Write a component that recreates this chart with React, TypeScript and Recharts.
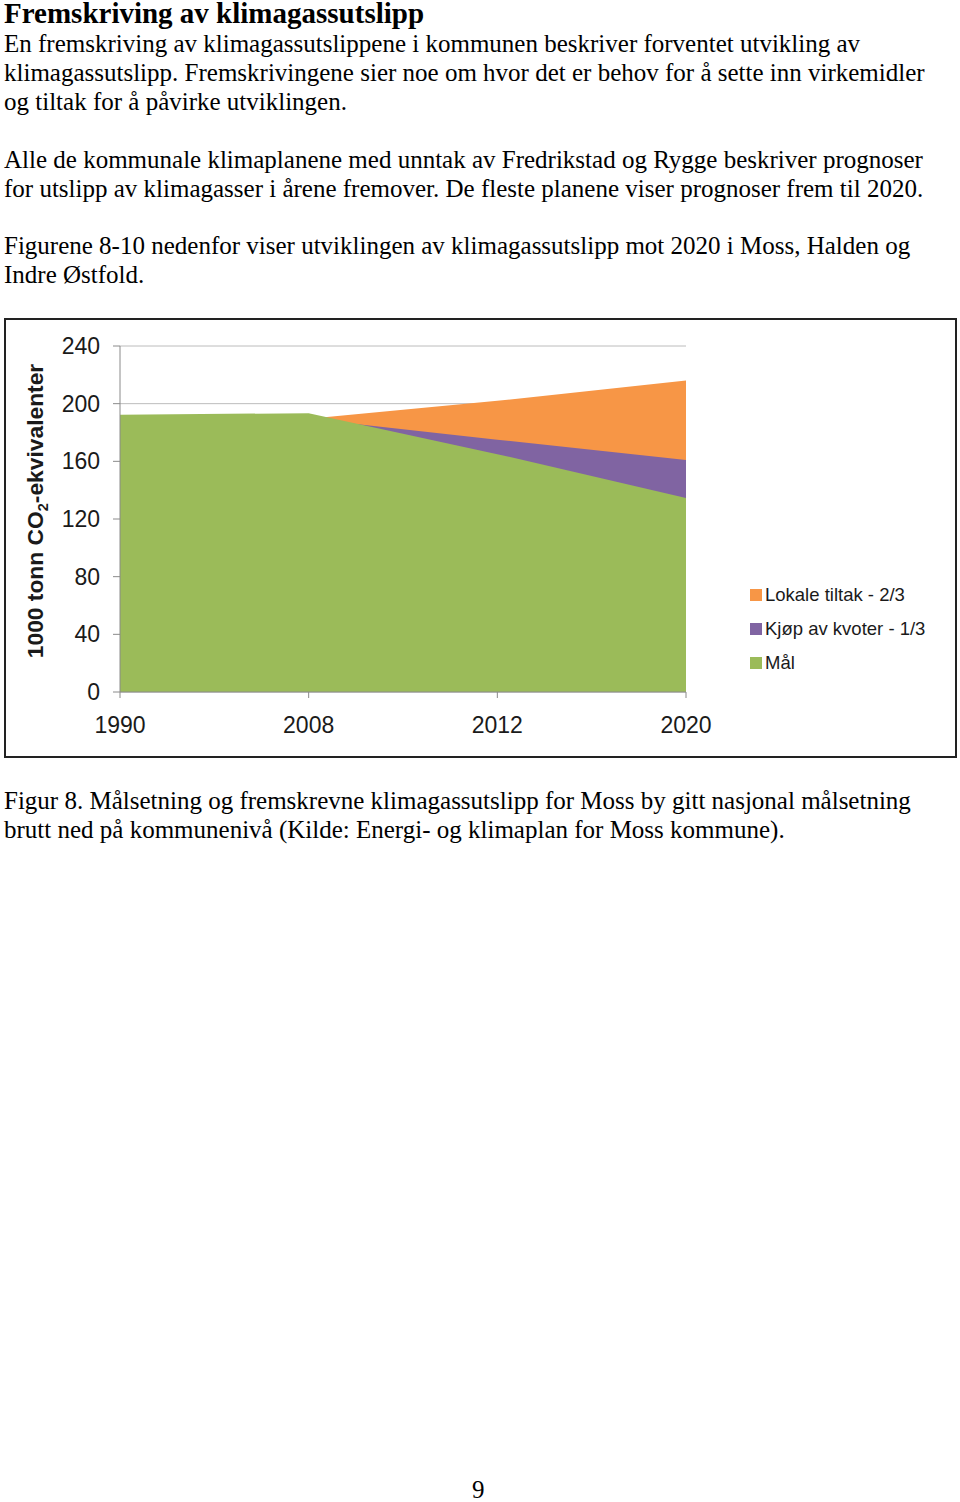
import { AreaChart, Area, XAxis, YAxis, CartesianGrid } from "recharts"

const years = ["1990", "2008", "2012", "2020"]
const lokaleTiltak = [190, 189.5, 202, 216]
const kjopKvoter = [190, 189.5, 175, 161]
const maal = [192.3, 193.4, 165, 134.6]
const yTicks = [0, 40, 80, 120, 160, 200, 240]

const seriesNames = ["Lokale tiltak - 2/3", "Kjøp av kvoter - 1/3", "Mål"]
const seriesColors = ["#F79646", "#8064A2", "#9BBB59"]

const data = years.map((year, i) => ({
  year,
  lokale: lokaleTiltak[i],
  kvoter: kjopKvoter[i],
  maal: maal[i],
}))

const introLines = [
  "En fremskriving av klimagassutslippene i kommunen beskriver forventet utvikling av",
  "klimagassutslipp. Fremskrivingene sier noe om hvor det er behov for å sette inn virkemidler",
  "og tiltak for å påvirke utviklingen.",
]
const para2 = [
  "Alle de kommunale klimaplanene med unntak av Fredrikstad og Rygge beskriver prognoser",
  "for utslipp av klimagasser i årene fremover. De fleste planene viser prognoser frem til 2020.",
]
const para3 = [
  "Figurene 8-10 nedenfor viser utviklingen av klimagassutslipp mot 2020 i Moss, Halden og",
  "Indre Østfold.",
]
const caption = [
  "Figur 8. Målsetning og fremskrevne klimagassutslipp for Moss by gitt nasjonal målsetning",
  "brutt ned på kommunenivå (Kilde: Energi- og klimaplan for Moss kommune).",
]

const serif = "'Liberation Serif', 'Times New Roman', serif"
const sans = "'Liberation Sans', Arial, sans-serif"

function TextLine({ text, center }: { text: string; center: number }) {
  return (
    <div
      style={{
        position: "absolute",
        left: 4,
        top: center - 15,
        height: 30,
        lineHeight: "30px",
        fontFamily: serif,
        fontSize: 25,
        whiteSpace: "nowrap",
        color: "#000",
      }}
    >
      {text}
    </div>
  )
}

function YLabel() {
  return (
    <text
      transform="translate(43,193) rotate(-90)"
      textAnchor="middle"
      fontFamily={sans}
      fontWeight="bold"
      fontSize={22.8}
      fill="#1a1a1a"
    >
      <tspan>1000 tonn CO</tspan>
      <tspan fontSize={14.5} dy={5}>2</tspan>
      <tspan dy={-5}>-ekvivalenter</tspan>
    </text>
  )
}

export default function App() {
  return (
    <div style={{ position: "absolute", left: 0, top: 0, width: 960, height: 1502, background: "#fff" }}>
      <div
        style={{
          position: "absolute",
          left: 4,
          top: -2,
          fontFamily: serif,
          fontWeight: "bold",
          fontSize: 29,
          lineHeight: "30px",
          whiteSpace: "nowrap",
        }}
      >
        Fremskriving av klimagassutslipp
      </div>
      {introLines.map((t, i) => (
        <TextLine key={t} text={t} center={44 + i * 29} />
      ))}
      {para2.map((t, i) => (
        <TextLine key={t} text={t} center={160 + i * 29} />
      ))}
      {para3.map((t, i) => (
        <TextLine key={t} text={t} center={246 + i * 29} />
      ))}

      <div
        style={{
          position: "absolute",
          left: 4,
          top: 318,
          width: 949,
          height: 436,
          border: "2px solid #222",
        }}
      />
      <div style={{ position: "absolute", left: 0, top: 318 }}>
        <AreaChart
          width={960}
          height={440}
          data={data}
          margin={{ top: 28, right: 274, left: 60, bottom: 36 }}
        >
          <CartesianGrid vertical={false} stroke="#bcbcbc" />
          <XAxis
            dataKey="year"
            stroke="#8a8a8a"
            tickSize={6}
            tickMargin={19}
            height={30}
            tick={{ fill: "#1a1a1a", fontSize: 23, fontFamily: sans }}
          />
          <YAxis
            domain={[0, 240]}
            ticks={yTicks}
            width={60}
            stroke="#8a8a8a"
            tickSize={7}
            tickMargin={13}
            tick={{ fill: "#1a1a1a", fontSize: 23, fontFamily: sans }}
            label={<YLabel />}
          />
          <Area
            dataKey="lokale"
            name={seriesNames[0]}
            fill={seriesColors[0]}
            fillOpacity={1}
            stroke="none"
            type="linear"
            isAnimationActive={false}
          />
          <Area
            dataKey="kvoter"
            name={seriesNames[1]}
            fill={seriesColors[1]}
            fillOpacity={1}
            stroke="none"
            type="linear"
            isAnimationActive={false}
          />
          <Area
            dataKey="maal"
            name={seriesNames[2]}
            fill={seriesColors[2]}
            fillOpacity={1}
            stroke="none"
            type="linear"
            isAnimationActive={false}
          />
        </AreaChart>
      </div>
      <div
        style={{
          position: "absolute",
          left: 750,
          top: 578,
          fontFamily: sans,
          fontSize: 18.5,
          color: "#1a1a1a",
        }}
      >
        {seriesNames.map((name, i) => (
          <div key={name} style={{ display: "flex", alignItems: "center", height: 34, whiteSpace: "nowrap" }}>
            <span
              style={{
                display: "inline-block",
                width: 12,
                height: 12,
                background: seriesColors[i],
                marginRight: 3,
              }}
            />
            <span>{name}</span>
          </div>
        ))}
      </div>

      {caption.map((t, i) => (
        <TextLine key={t} text={t} center={801 + i * 29} />
      ))}
      <div
        style={{
          position: "absolute",
          left: 472,
          top: 1475,
          fontFamily: serif,
          fontSize: 25,
          lineHeight: "30px",
        }}
      >
        9
      </div>
    </div>
  )
}
